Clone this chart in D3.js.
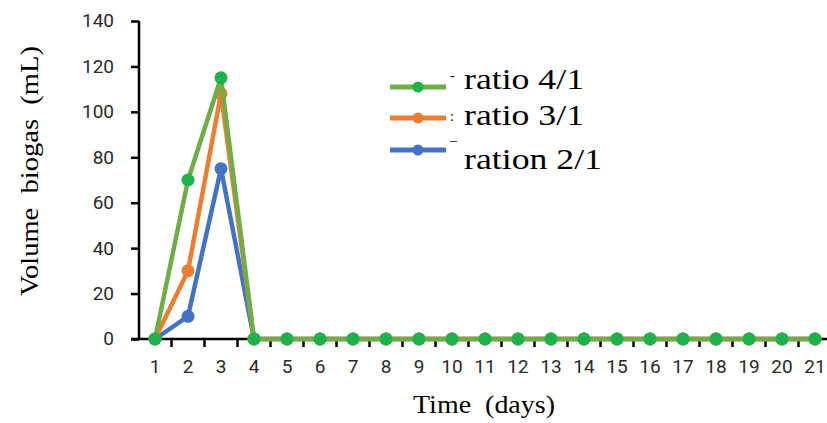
<!DOCTYPE html>
<html>
<head>
<meta charset="utf-8">
<script src="https://cdn.jsdelivr.net/npm/d3@7"></script>
<style>
  body { margin: 0; background: #fff; }
  svg { display: block; }
</style>
</head>
<body>
<script>
const days = d3.range(1, 22)
const ratio41 = [0, 70, 115, 0, 0, 0, 0, 0, 0, 0, 0, 0, 0, 0, 0, 0, 0, 0, 0, 0, 0]
const ratio31 = [0, 30, 108, 0, 0, 0, 0, 0, 0, 0, 0, 0, 0, 0, 0, 0, 0, 0, 0, 0, 0]
const ratio21 = [0, 10, 75, 0, 0, 0, 0, 0, 0, 0, 0, 0, 0, 0, 0, 0, 0, 0, 0, 0, 0]
const yTicks = [0, 20, 40, 60, 80, 100, 120, 140]

const series = [
  {name: 'ration 2/1', values: ratio21, line: '#4472C4', dot: '#4472C4'},
  {name: 'ratio 3/1', values: ratio31, line: '#ED7D31', dot: '#ED7D31'},
  {name: 'ratio 4/1', values: ratio41, line: '#70AD47', dot: '#1DB34A'}
]

const width = 827
const height = 423
const serif = "'Liberation Serif', 'Times New Roman', Times, serif"
const sans = "Roboto, 'Liberation Sans', sans-serif"

const x = d3.scaleBand().domain(days).range([138.5, 831.5])
const y = d3.scaleLinear().domain([0, 140]).range([339, 21])
const cx = d => x(d) + x.bandwidth() / 2

const svg = d3.select('body').append('svg').attr('width', width).attr('height', height)

// y axis
const yAxis = svg.append('g').attr('transform', 'translate(139,0)')
  .call(d3.axisLeft(y).tickValues(yTicks).tickSize(8).tickFormat(''))
yAxis.select('.domain').attr('stroke', '#000').attr('stroke-width', 2.5).attr('d', 'M0,' + y(140) + 'V' + y(0))
yAxis.selectAll('.tick line').attr('stroke', '#000').attr('stroke-width', 2.5)
svg.append('g').selectAll('text').data(yTicks)
  .enter().append('text')
    .attr('x', 114).attr('y', d => y(d))
    .attr('dy', '0.34em')
    .attr('text-anchor', 'end')
    .style('font-family', sans).style('font-size', '19px').style('fill', '#2a2a2a')
    .text(d => d)

// x axis, ticks sit between categories
const xg = svg.append('g').attr('transform', 'translate(0,' + y(0) + ')')
xg.append('line').attr('x1', 131).attr('x2', width).attr('stroke', '#000').attr('stroke-width', 2.5)
xg.selectAll('.xt').data(days.slice(1).concat([22]))
  .enter().append('line')
    .attr('x1', d => x(d) !== undefined ? x(d) : x(21) + x.step())
    .attr('x2', d => x(d) !== undefined ? x(d) : x(21) + x.step())
    .attr('y1', 0).attr('y2', 8)
    .attr('stroke', '#000').attr('stroke-width', 2.5)
xg.selectAll('.xl').data(days)
  .enter().append('text')
    .attr('x', cx).attr('y', 34)
    .attr('text-anchor', 'middle')
    .style('font-family', sans).style('font-size', '19px').style('fill', '#2a2a2a')
    .text(d => d)

// lines and markers
const line = d3.line().x((v, i) => cx(days[i])).y(v => y(v))
series.forEach(s => {
  svg.append('path').datum(s.values)
    .attr('d', line).attr('fill', 'none')
    .attr('stroke', s.line).attr('stroke-width', 4.5).attr('stroke-linejoin', 'round')
  svg.append('g').selectAll('circle').data(s.values)
    .enter().append('circle')
      .attr('cx', (v, i) => cx(days[i])).attr('cy', v => y(v))
      .attr('r', 6.5).attr('fill', s.dot)
})

// legend
const legend = [
  {s: series[2], y: 87, ty: 89, len: 120, mark: '-', my: 80},
  {s: series[1], y: 118, ty: 125, len: 120, mark: ':', my: 121},
  {s: series[0], y: 150, ty: 169, len: 138, mark: '\u00AF', my: 152}
]
legend.forEach(l => {
  svg.append('line').attr('x1', 390).attr('x2', 446).attr('y1', l.y).attr('y2', l.y)
    .attr('stroke', l.s.line).attr('stroke-width', 5)
  svg.append('circle').attr('cx', 418).attr('cy', l.y).attr('r', 5.5).attr('fill', l.s.dot)
  svg.append('text').attr('x', 450).attr('y', l.my)
    .attr('font-family', serif).attr('font-size', 14).text(l.mark)
  svg.append('text').attr('x', 464).attr('y', l.ty)
    .attr('font-family', serif).attr('font-size', 30).attr('fill', '#000')
    .attr('textLength', l.len).attr('lengthAdjust', 'spacingAndGlyphs')
    .text(l.s.name)
})

// axis titles
svg.append('text')
  .attr('transform', 'translate(38,171) rotate(-90)')
  .attr('text-anchor', 'middle')
  .attr('font-family', serif).attr('font-size', 25)
  .style('white-space', 'pre')
  .attr('textLength', 250).attr('lengthAdjust', 'spacingAndGlyphs')
  .text('Volume  biogas  (mL)')
svg.append('text')
  .attr('x', 484).attr('y', 413)
  .attr('text-anchor', 'middle')
  .attr('font-family', serif).attr('font-size', 25)
  .style('white-space', 'pre')
  .attr('textLength', 142).attr('lengthAdjust', 'spacingAndGlyphs')
  .text('Time  (days)')
</script>
</body>
</html>
